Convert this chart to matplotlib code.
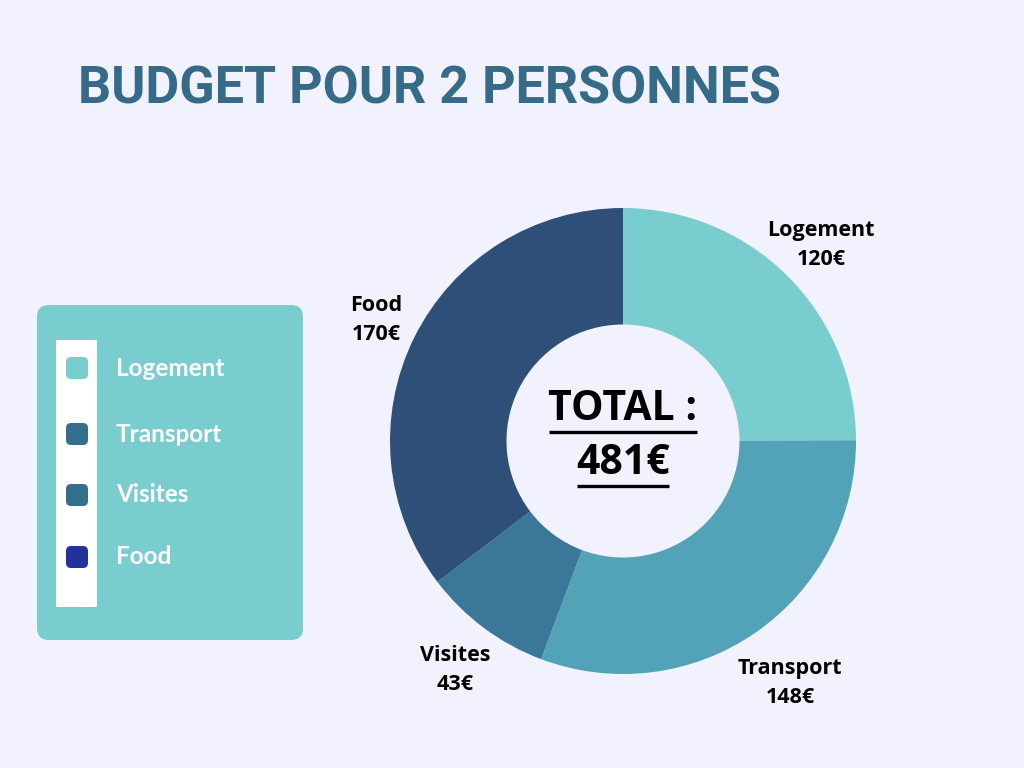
import matplotlib
matplotlib.use("Agg")
import matplotlib.pyplot as plt
from matplotlib.patches import FancyBboxPatch, Rectangle

categories = ["Logement", "Transport", "Visites", "Food"]
values = [120, 148, 43, 170]
wedge_colors = ["#79CDCF", "#52A3B8", "#3B7799", "#2E4F77"]
legend_colors = ["#79CDCF", "#336E8A", "#336E8A", "#21339B"]
title = "BUDGET POUR 2 PERSONNES"
total = sum(values)

BG = "#F1F2FD"
W, H = 1024, 768
fig = plt.figure(figsize=(W / 100, H / 100), dpi=100, facecolor=BG)

# overlay axes in pixel coordinates (y downward)
ov = fig.add_axes([0, 0, 1, 1])
ov.set_xlim(0, W)
ov.set_ylim(H, 0)
ov.axis("off")
ov.set_facecolor(BG)

ov.text(78, 89, title, fontsize=37.5, fontweight="bold", color="#356B89",
        family="Roboto", va="center", ha="left")

# legend panel
ov.add_patch(FancyBboxPatch((37, 305), 266, 335,
                            boxstyle="round,pad=0,rounding_size=12",
                            fc="#79CDCF", ec="none"))
ov.add_patch(Rectangle((56, 340), 41, 267, fc="white", ec="none"))
leg_y = [368, 434, 495, 557]
for cat, col, y in zip(categories, legend_colors, leg_y):
    ov.add_patch(FancyBboxPatch((66, y - 11), 22, 22,
                                boxstyle="round,pad=0,rounding_size=5",
                                fc=col, ec="none"))
    ov.text(116, y, cat, fontsize=17.5, fontweight="bold", color="white",
            family="Lato", va="center", ha="left")

# donut
cx, cy, R = 623, 441, 233
pax = fig.add_axes([(cx - R) / W, (H - cy - R) / H, 2 * R / W, 2 * R / H])
pax.pie(values, colors=wedge_colors, startangle=90, counterclock=False,
        radius=1, wedgeprops=dict(width=0.5, edgecolor="none"))
pax.set_xlim(-1, 1)
pax.set_ylim(-1, 1)
pax.set_aspect("auto")
pax.axis("off")

# value labels
label_pos = [(821, 245), (790, 683), (455, 670), (376, 320)]
for cat, v, (x, y) in zip(categories, values, label_pos):
    ov.text(x, y, f"{cat}\n{v}€", fontsize=15.5, fontweight="bold", color="black",
            family="Open Sans", ha="center", va="center", linespacing=1.55)

# center total text with underline
t1 = ov.text(cx, 410, "TOTAL :", fontsize=29.5, fontweight="bold", color="black",
             family="Open Sans", ha="center", va="center")
t2 = ov.text(cx, 464, f"{total}€", fontsize=29.5, fontweight="bold", color="black",
             family="Open Sans", ha="center", va="center")
fig.canvas.draw()
r = fig.canvas.get_renderer()
for t, yline in ((t1, 432), (t2, 486)):
    bb = t.get_window_extent(r)
    ov.plot([bb.x0 + 1, bb.x1 - 1], [yline, yline], color="black", lw=2.4,
            solid_capstyle="butt")

fig.savefig("out.png", dpi=100, facecolor=BG)
